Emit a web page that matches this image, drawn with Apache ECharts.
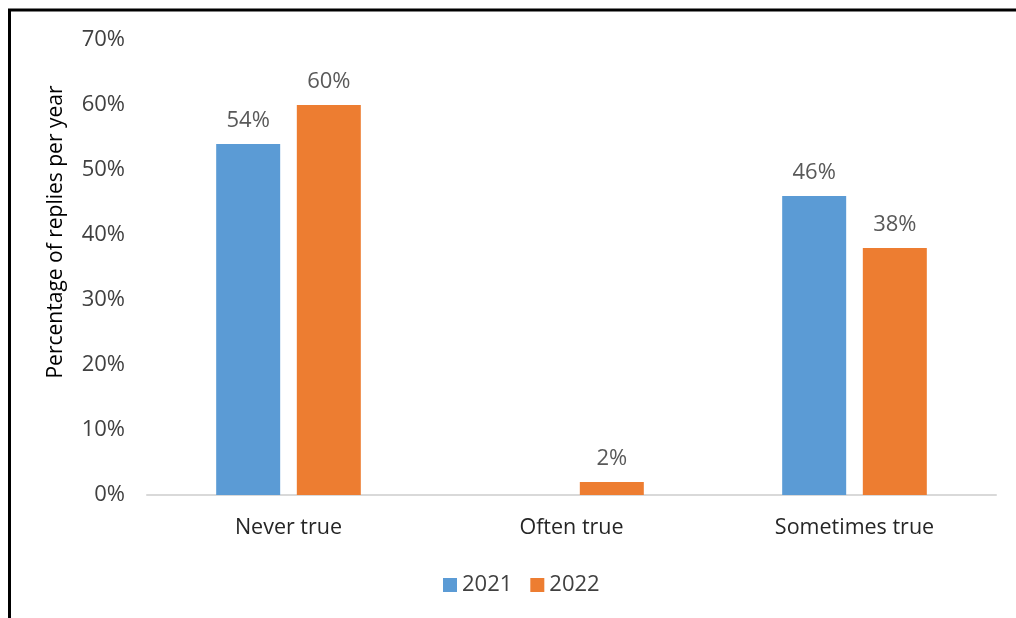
<!DOCTYPE html>
<html>
<head>
<meta charset="utf-8">
<script src="https://cdn.jsdelivr.net/npm/echarts@6/dist/echarts.min.js"></script>
<style>
  html, body { margin: 0; padding: 0; background: #fff; }
  #chart { width: 1016px; height: 618px; }
</style>
</head>
<body>
<div id="chart"></div>
<script>
// Survey answers, share of replies per year (%)
const categories = ['Never true', 'Often true', 'Sometimes true'];
const years = ['2021', '2022'];
const values2021 = [54, null, 46];
const values2022 = [60, 2, 38];
const yTicks = [0, 10, 20, 30, 40, 50, 60, 70];
const yTitle = 'Percentage of replies per year';

const FONT = '"Open Sans", Lato, sans-serif';
const colors = ['#5b9bd5', '#ed7d31'];

const chart = echarts.init(document.getElementById('chart'), null, { renderer: 'canvas' });

const makeSeries = (name, data, color) => ({
  name: name,
  type: 'bar',
  data: data,
  barWidth: 64,
  barGap: '26%',
  itemStyle: { color: color },
  label: {
    show: true,
    position: 'top',
    distance: 12,
    formatter: p => (p.value == null ? '' : p.value + '%'),
    color: '#595959',
    fontFamily: FONT,
    fontSize: 22
  },
  emphasis: { disabled: true }
});

chart.setOption({
  animation: false,
  backgroundColor: '#ffffff',
  color: colors,
  grid: { left: 147, right: 20, top: 40, bottom: 123, containLabel: false },
  legend: {
    data: years,
    left: 443,
    top: 574,
    padding: 0,
    icon: 'rect',
    itemWidth: 14,
    itemHeight: 14,
    itemGap: 18,
    textStyle: { color: '#404040', fontFamily: FONT, fontSize: 22 }
  },
  xAxis: {
    type: 'category',
    data: categories,
    axisLine: { show: true, lineStyle: { color: '#d9d9d9', width: 2 } },
    axisTick: { show: false },
    axisLabel: { color: '#262626', fontFamily: FONT, fontSize: 21.5, margin: 22 },
    splitLine: { show: false }
  },
  yAxis: {
    type: 'value',
    min: yTicks[0],
    max: yTicks[yTicks.length - 1],
    interval: yTicks[1] - yTicks[0],
    axisLine: { show: false },
    axisTick: { show: false },
    splitLine: { show: false },
    axisLabel: {
      formatter: '{value}%',
      color: '#404040',
      fontFamily: FONT,
      fontSize: 22,
      margin: 22
    }
  },
  series: [
    makeSeries(years[0], values2021, colors[0]),
    makeSeries(years[1], values2022, colors[1])
  ],
  graphic: [
    {
      type: 'text',
      x: 56,
      y: 232,
      rotation: Math.PI / 2,
      style: {
        text: yTitle,
        fill: '#000000',
        font: '21px ' + FONT,
        align: 'center',
        verticalAlign: 'middle'
      }
    },
    {
      type: 'polyline',
      shape: { points: [[9.5, 618], [9.5, 10], [1016, 10]] },
      style: { stroke: '#000000', lineWidth: 3, fill: null }
    }
  ]
});
</script>
</body>
</html>
